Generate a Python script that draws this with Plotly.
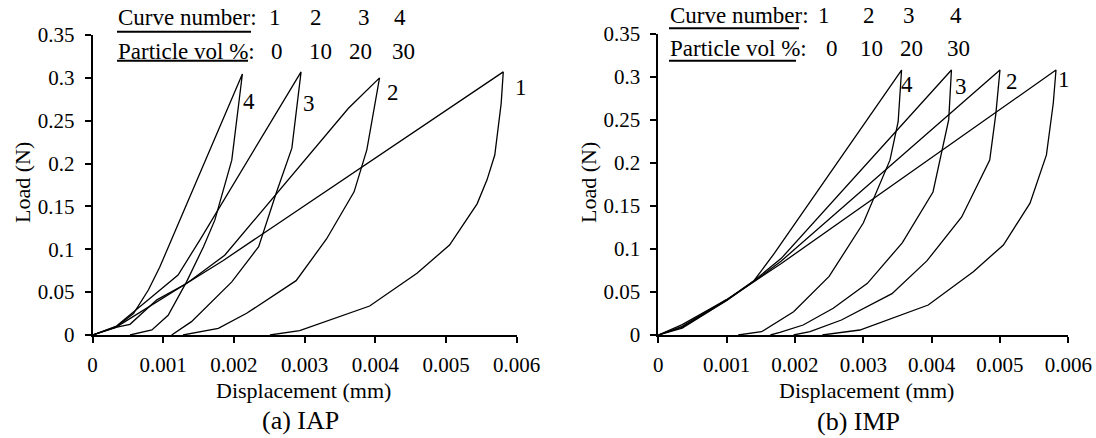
import plotly.graph_objects as go

W, H = 1096, 438
FONT = "Liberation Serif"

# ---------------- data ----------------
X_TICKS = [0, 0.001, 0.002, 0.003, 0.004, 0.005, 0.006]
X_TICK_TEXT = ["0", "0.001", "0.002", "0.003", "0.004", "0.005", "0.006"]
Y_TICKS = [0, 0.05, 0.1, 0.15, 0.2, 0.25, 0.3, 0.35]
Y_TICK_TEXT = ["0", "0.05", "0.1", "0.15", "0.2", "0.25", "0.3", "0.35"]

CURVE_NUMBERS = ["1", "2", "3", "4"]
PARTICLE_VOL = ["0", "10", "20", "30"]

# (a) IAP : each curve = loading path then unloading path
IAP_1_DISP = [0, 0.00033, 0.00185, 0.00463, 0.00581, 0.00578, 0.00569, 0.00558, 0.00544, 0.00505, 0.00459, 0.00392, 0.00293, 0.00251]
IAP_1_LOAD = [0, 0.009, 0.087, 0.241, 0.307, 0.270, 0.210, 0.181, 0.153, 0.105, 0.072, 0.0338, 0.005, 0]
IAP_2_DISP = [0, 0.00033, 0.00053, 0.00091, 0.00133, 0.00187, 0.00362, 0.00406, 0.00388, 0.00370, 0.00331, 0.00288, 0.00218, 0.00178, 0.00128]
IAP_2_LOAD = [0, 0.009, 0.0125, 0.041, 0.060, 0.093, 0.2645, 0.300, 0.216, 0.167, 0.112, 0.0634, 0.0253, 0.0078, 0]
IAP_3_DISP = [0, 0.00034, 0.00084, 0.00121, 0.00152, 0.00295, 0.00282, 0.00260, 0.00235, 0.00197, 0.00140, 0.00112]
IAP_3_LOAD = [0, 0.0105, 0.0447, 0.070, 0.111, 0.307, 0.218, 0.166, 0.103, 0.062, 0.0156, 0]
IAP_4_DISP = [0, 0.00034, 0.00058, 0.00079, 0.00095, 0.00212, 0.00197, 0.00173, 0.00157, 0.00133, 0.00107, 0.00084, 0.00053]
IAP_4_LOAD = [0, 0.0097, 0.025, 0.0525, 0.079, 0.3045, 0.204, 0.134, 0.103, 0.062, 0.023, 0.006, 0]

# (b) IMP
IMP_1_DISP = [0, 0.00035, 0.0010, 0.0014, 0.0018, 0.00582, 0.00578, 0.00568, 0.00556, 0.00544, 0.00505, 0.00461, 0.00395, 0.00295, 0.0024]
IMP_1_LOAD = [0, 0.012, 0.041, 0.062, 0.083, 0.3076, 0.269, 0.209, 0.180, 0.153, 0.1045, 0.0735, 0.0348, 0.0058, 0]
IMP_2_DISP = [0, 0.00035, 0.0010, 0.0014, 0.0018, 0.0050, 0.00494, 0.00485, 0.00444, 0.00393, 0.00342, 0.00268, 0.00222, 0.00198]
IMP_2_LOAD = [0, 0.009, 0.040, 0.062, 0.086, 0.3076, 0.257, 0.203, 0.137, 0.086, 0.048, 0.0174, 0.004, 0]
IMP_3_DISP = [0, 0.00035, 0.0010, 0.0014, 0.0018, 0.00429, 0.00425, 0.00402, 0.00357, 0.00306, 0.00256, 0.00212, 0.00178, 0.00164]
IMP_3_LOAD = [0, 0.010, 0.041, 0.063, 0.089, 0.3076, 0.250, 0.166, 0.107, 0.060, 0.031, 0.0116, 0.003, 0]
IMP_4_DISP = [0, 0.00035, 0.0010, 0.0014, 0.0017, 0.00356, 0.00351, 0.00339, 0.0030, 0.0025, 0.00198, 0.00151, 0.00117]
IMP_4_LOAD = [0, 0.008, 0.040, 0.063, 0.095, 0.3076, 0.2476, 0.203, 0.130, 0.068, 0.027, 0.0038, 0]

# ---------------- helpers ----------------
def px(x):
    return x / W

def py(y):
    return 1 - y / H

fig = go.Figure()

line_style = dict(color="black", width=1.3)
panels = [
    ("x", "y", [(IAP_1_DISP, IAP_1_LOAD), (IAP_2_DISP, IAP_2_LOAD), (IAP_3_DISP, IAP_3_LOAD), (IAP_4_DISP, IAP_4_LOAD)]),
    ("x2", "y2", [(IMP_1_DISP, IMP_1_LOAD), (IMP_2_DISP, IMP_2_LOAD), (IMP_3_DISP, IMP_3_LOAD), (IMP_4_DISP, IMP_4_LOAD)]),
]
for xa, ya, curves in panels:
    for d, l in curves:
        fig.add_trace(go.Scatter(x=d, y=l, mode="lines", line=line_style,
                                 xaxis=xa, yaxis=ya, showlegend=False, hoverinfo="skip"))

tickfont = dict(family=FONT, size=21, color="black")
common_x = dict(range=[0, 0.006], tickvals=X_TICKS, ticktext=X_TICK_TEXT, showline=True,
                linecolor="black", linewidth=1.8, ticks="outside", ticklen=6, tickwidth=1.5,
                tickcolor="black", showgrid=False, zeroline=False, tickfont=tickfont,
                ticklabelstandoff=4, automargin=False)
common_y = dict(range=[0, 0.35], tickvals=Y_TICKS, ticktext=Y_TICK_TEXT, showline=True,
                linecolor="black", linewidth=1.8, ticks="outside", ticklen=6, tickwidth=1.5,
                tickcolor="black", showgrid=False, zeroline=False, tickfont=tickfont,
                ticklabelstandoff=6, automargin=False)

fig.update_layout(
    template="none",
    width=W, height=H, autosize=False,
    margin=dict(l=0, r=0, t=0, b=0, pad=0, autoexpand=False),
    paper_bgcolor="white", plot_bgcolor="white",
    font=dict(family=FONT, color="black"),
    xaxis=dict(domain=[px(92.5), px(516.7)], anchor="y", **common_x),
    yaxis=dict(domain=[py(335), py(35)], anchor="x", **common_y),
    xaxis2=dict(domain=[px(658.3), px(1068.3)], anchor="y2", **common_x),
    yaxis2=dict(domain=[py(335), py(33.5)], anchor="x2", **common_y),
)

ann = []
def text(x, y, s, size, xanchor="center", angle=0):
    ann.append(dict(x=px(x), y=py(y), xref="paper", yref="paper", text=s, showarrow=False,
                    xanchor=xanchor, yanchor="middle", textangle=angle,
                    font=dict(family=FONT, size=size, color="black")))

# axis titles and sub-captions
text(22, 183, "Load (N)", 22, angle=-90)
text(588, 183, "Load (N)", 22, angle=-90)
text(303.5, 390, "Displacement (mm)", 22)
text(866, 390, "Displacement (mm)", 22)
text(300, 420, "(a) IAP", 26)
text(859, 421, "(b) IMP", 26)

# header rows
headers = [
    # label x, row1 y, row2 y, row1 number centers, row2 number centers
    (117, 18, 51, [275, 316, 364, 400], [277, 320, 361, 403]),
    (669, 15, 48.3, [824, 869, 909, 956], [832, 871.7, 911.7, 958]),
]
shapes = []
for lx, r1, r2, c1, c2 in headers:
    text(lx - 1, r1, "Curve number:", 23, xanchor="left")
    text(lx - 1, r2, "Particle vol %:", 23, xanchor="left")
    for c, s in zip(c1, CURVE_NUMBERS):
        text(c, r1, s, 23)
    for c, s in zip(c2, PARTICLE_VOL):
        text(c, r2, s, 23)

underlines = [(117, 251, 31.7), (117, 248, 60.7), (669, 799, 28.3), (669, 796, 60.7)]
for x0, x1, yy in underlines:
    shapes.append(dict(type="line", xref="paper", yref="paper", x0=px(x0), x1=px(x1),
                       y0=py(yy), y1=py(yy), line=dict(color="black", width=2)))

# curve number labels next to each peak
label_offsets = {
    ("x", "y"): [(17.7, 15.3), (13, 15), (7.7, 31.6), (6.3, 27.3)],
    ("x2", "y2"): [(8.3, 9.3), (12.3, 11), (10, 16.7), (5.6, 14.7)],
}
for xa, ya, curves in panels:
    offs = label_offsets[(xa, ya)]
    for (d, l), s, (dx, dy) in zip(curves, CURVE_NUMBERS, offs):
        k = l.index(max(l))
        ann.append(dict(x=d[k], y=l[k], xref=xa, yref=ya, text=s, showarrow=False,
                        xanchor="center", yanchor="middle", xshift=dx, yshift=-dy,
                        font=dict(family=FONT, size=23, color="black")))

fig.update_layout(annotations=ann, shapes=shapes)
fig.write_html("out.html")
